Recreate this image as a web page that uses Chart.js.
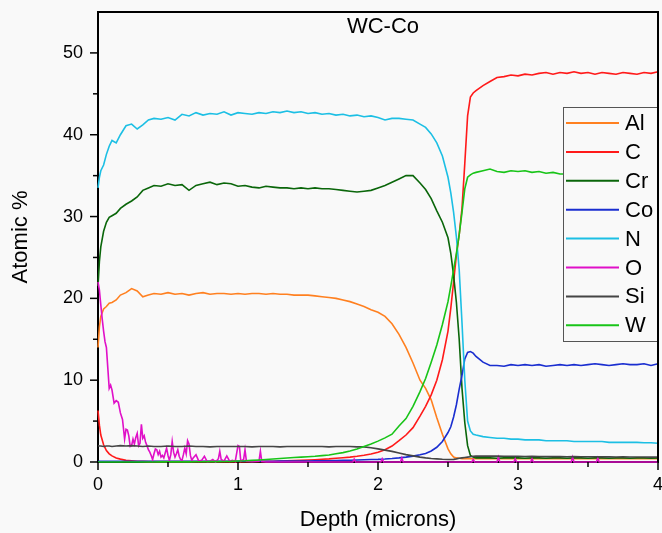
<!DOCTYPE html>
<html><head><meta charset="utf-8">
<script src="https://cdn.jsdelivr.net/npm/chart.js@4/dist/chart.umd.min.js"></script>
<style>html,body{margin:0;padding:0;background:#f9f9f9;} canvas{display:block;}</style>
</head><body>
<canvas id="c" width="662" height="533"></canvas>
<script>
// ---- data ----
const depth = [0,0.01,0.02,0.04,0.06,0.08,0.1,0.13,0.16,0.2,0.24,0.28,0.32,0.36,0.4,
  0.45,0.5,0.55,0.6,0.65,0.7,0.75,0.8,0.85,0.9,0.95,
  1.0,1.05,1.1,1.15,1.2,1.25,1.3,1.35,1.4,1.45,
  1.5,1.55,1.6,1.65,1.7,1.75,1.8,1.85,1.9,1.95,
  2.0,2.05,2.1,2.15,2.2,2.25,2.3,
  2.34,2.38,2.42,2.46,2.5,
  2.52,2.54,2.56,2.58,2.6,2.62,2.64,2.66,2.68,2.7,
  2.75,2.8,2.85,2.9,2.95,
  3.0,3.05,3.1,3.15,3.2,3.25,3.3,3.35,3.4,3.45,
  3.5,3.55,3.6,3.65,3.7,3.75,3.8,3.85,3.9,3.95,4.0];

const alVal = [14.0,16.5,17.8,18.7,19.0,19.4,19.5,19.8,20.4,20.7,21.2,20.9,20.2,20.4,20.6,
  20.5,20.7,20.5,20.6,20.4,20.6,20.7,20.5,20.6,20.6,20.5,
  20.6,20.5,20.6,20.6,20.5,20.6,20.5,20.5,20.4,20.4,
  20.4,20.3,20.2,20.1,20.0,19.8,19.6,19.3,19.0,18.6,
  18.3,17.8,16.9,15.6,14.0,12.1,10.0,
  9.0,7.6,5.4,3.4,1.6,
  1.0,0.6,0.5,0.45,0.4,0.4,0.4,0.4,0.4,0.4,
  0.4,0.4,0.4,0.4,0.4,
  0.4,0.4,0.4,0.4,0.4,0.4,0.4,0.4,0.4,0.4,
  0.4,0.4,0.4,0.4,0.4,0.4,0.4,0.4,0.4,0.4,0.4];

const cVal = [6.3,4.5,3.3,2.1,1.4,1.0,0.75,0.5,0.35,0.2,0.15,0.1,0.08,0.05,0.05,
  0.05,0.05,0.05,0.05,0.05,0.05,0.05,0.05,0.05,0.05,0.05,
  0.05,0.05,0.06,0.07,0.08,0.1,0.12,0.14,0.17,0.2,
  0.24,0.28,0.33,0.38,0.45,0.52,0.6,0.7,0.82,0.98,
  1.2,1.5,1.95,2.6,3.3,4.2,5.6,
  6.8,8.2,10.0,12.5,16.0,
  18.8,22.0,25.3,27.8,31.0,36.5,42.3,44.6,45.1,45.4,
  46.0,46.5,47.0,47.1,47.3,
  47.2,47.4,47.3,47.5,47.6,47.4,47.6,47.5,47.7,47.5,
  47.6,47.4,47.6,47.5,47.4,47.6,47.5,47.4,47.6,47.5,47.7];

const crVal = [21.5,24.5,26.3,28.2,29.3,29.9,30.1,30.4,31.0,31.5,31.9,32.4,33.2,33.5,33.8,
  33.7,34.0,33.8,33.9,33.2,33.8,34.0,34.2,33.9,34.1,34.0,
  33.7,33.8,33.6,33.5,33.7,33.6,33.5,33.5,33.4,33.5,
  33.4,33.5,33.4,33.4,33.3,33.2,33.1,33.0,33.1,33.2,
  33.5,33.8,34.2,34.6,35.0,35.0,34.1,
  33.3,32.2,30.7,29.3,27.4,
  25.5,22.8,19.5,15.0,9.0,4.8,2.0,0.8,0.6,0.5,
  0.5,0.5,0.45,0.5,0.5,
  0.5,0.45,0.5,0.5,0.45,0.5,0.5,0.45,0.5,0.5,
  0.45,0.5,0.5,0.45,0.5,0.5,0.45,0.5,0.5,0.45,0.5];

const coVal = [0.1,0.1,0.1,0.1,0.1,0.1,0.1,0.1,0.1,0.1,0.1,0.1,0.1,0.1,0.1,
  0.1,0.1,0.1,0.1,0.1,0.1,0.1,0.1,0.1,0.1,0.1,
  0.1,0.1,0.1,0.1,0.1,0.1,0.11,0.11,0.12,0.12,
  0.13,0.14,0.15,0.16,0.18,0.2,0.22,0.25,0.27,0.3,
  0.32,0.36,0.42,0.5,0.6,0.72,0.88,
  1.05,1.35,1.8,2.5,3.6,
  4.3,5.5,7.0,8.9,10.6,12.6,13.4,13.5,13.3,12.9,
  12.2,11.8,11.8,11.7,11.9,
  11.8,11.9,11.8,11.9,11.7,11.8,11.9,11.8,11.9,11.8,
  11.9,12.0,11.9,11.8,11.9,12.0,11.9,11.9,12.0,11.8,12.0];

const nVal = [33.5,34.8,35.6,36.3,37.6,38.6,39.3,39.0,40.0,41.1,41.3,40.7,41.2,41.8,42.0,
  41.9,42.1,41.8,42.5,42.3,42.7,42.4,42.6,42.5,42.8,42.4,
  42.7,42.6,42.5,42.7,42.6,42.8,42.7,42.9,42.7,42.8,
  42.6,42.7,42.5,42.6,42.4,42.5,42.3,42.4,42.2,42.3,
  42.1,41.8,42.0,42.0,41.9,41.8,41.3,
  40.9,40.1,39.0,37.4,34.8,
  32.9,30.5,27.5,23.5,17.0,10.0,5.0,3.8,3.4,3.3,
  3.1,3.0,2.9,2.9,2.8,
  2.8,2.7,2.7,2.7,2.6,2.6,2.6,2.6,2.5,2.5,
  2.5,2.5,2.5,2.4,2.4,2.4,2.4,2.4,2.35,2.35,2.3];

const siVal = [2.0,1.95,1.95,1.9,1.95,1.95,1.9,1.95,2.0,1.95,2.0,1.95,1.9,1.95,1.9,
  1.9,1.95,1.9,1.9,1.95,1.9,1.9,1.85,1.9,1.9,1.9,
  1.9,1.9,1.85,1.9,1.9,1.9,1.85,1.9,1.9,1.9,
  1.9,1.9,1.9,1.85,1.9,1.9,1.9,1.85,1.85,1.75,
  1.6,1.45,1.3,1.1,0.9,0.75,0.6,
  0.5,0.42,0.38,0.33,0.3,
  0.3,0.32,0.38,0.45,0.5,0.55,0.6,0.65,0.7,0.72,
  0.73,0.72,0.72,0.7,0.7,
  0.7,0.68,0.7,0.68,0.66,0.68,0.66,0.65,0.66,0.65,
  0.64,0.65,0.63,0.64,0.62,0.63,0.62,0.61,0.62,0.6,0.6];

const wVal = [0,0,0,0,0,0,0,0,0,0,0,0,0,0,0,
  0.02,0.02,0.02,0.02,0.02,0.03,0.03,0.04,0.05,0.06,0.08,
  0.12,0.15,0.2,0.25,0.3,0.36,0.42,0.48,0.55,0.6,
  0.65,0.7,0.78,0.86,1.0,1.15,1.35,1.6,1.9,2.2,
  2.55,2.95,3.4,4.4,5.3,6.8,8.6,
  10.2,12.2,14.3,16.8,19.6,
  21.5,23.5,25.5,27.8,30.5,33.4,34.8,35.1,35.3,35.4,
  35.6,35.8,35.5,35.4,35.6,
  35.5,35.6,35.4,35.5,35.3,35.4,35.2,35.2,35.3,35.2,
  35.3,35.1,35.2,35.2,35.1,35.2,35.1,35.2,35.1,35.2,35.2];

// oxygen is noisy near the surface, so it has its own depth list
const oDepth = [0,0.01,0.02,0.03,0.04,0.05,0.06,0.07,0.08,0.09,0.1,
  0.115,0.13,0.145,0.16,0.175,0.19,
  0.2,0.21,0.22,0.23,0.24,0.25,0.26,0.27,0.28,0.29,0.3,0.31,0.32,0.33,0.34,0.35,0.36,0.37,0.38,0.39,
  0.4,0.41,0.42,0.43,0.44,0.45,0.46,0.47,0.48,0.49,0.5,0.51,0.52,0.53,0.54,0.55,0.56,0.57,0.58,0.59,
  0.6,0.61,0.62,0.63,0.64,0.65,0.66,0.67,0.68,
  0.7,0.72,0.74,0.76,0.78,0.8,0.82,0.84,0.86,0.87,0.88,
  0.9,0.92,0.94,0.96,0.98,1.0,1.01,1.02,1.04,1.05,1.06,
  1.1,1.15,1.16,1.17,1.2,1.5,
  1.82,1.83,1.84,2.02,2.03,2.04,2.16,2.17,2.18,2.67,2.68,2.69,2.85,2.86,2.87,
  2.97,2.98,2.99,3.09,3.1,3.11,3.38,3.39,3.4,3.56,3.57,3.58,4.0];
const oVal = [22.0,21.0,19.2,17.5,16.0,14.7,14.0,11.5,9.0,9.4,8.8,
  7.2,7.5,7.3,6.0,5.2,2.8,
  4.0,3.9,3.2,1.9,2.0,2.8,2.2,3.0,3.5,2.0,2.3,4.6,2.9,3.2,2.4,2.0,1.5,1.2,0.8,0.3,
  1.0,1.6,1.5,0.9,1.3,0.6,0.8,0.5,1.1,1.7,0.8,0.2,0.9,2.5,1.2,0.6,1.0,1.5,0.7,0.3,
  0.2,0.9,1.7,1.0,2.6,2.2,0.8,0.2,0.5,
  0.9,0.1,0.2,0.7,0.05,0.1,0.3,0.0,0.4,1.3,0.3,
  0.1,0.75,0.1,0.2,0.05,2.0,1.9,0.1,0.3,1.5,0.1,
  0.05,0.1,1.3,0.05,0.0,0.0,
  0.0,0.35,0.0,0.0,0.4,0.0,0.0,0.5,0.0,0.0,0.3,0.0,0.0,0.6,0.0,
  0.0,0.4,0.0,0.0,0.4,0.0,0.0,0.6,0.0,0.0,0.5,0.0,0.0];

const seriesNames  = ['Al','C','Cr','Co','N','O','Si','W'];
const seriesColors = ['#ff8020','#ff1a1a','#0a660a','#1a2ed0','#1cbfe4','#e010c8','#454545','#18c418'];
const xTickLabels = [0,1,2,3,4];
const yTickLabels = [0,10,20,30,40,50];
const chartTitle = 'WC-Co';
const xTitle = 'Depth (microns)';
const yTitle = 'Atomic %';

// ---- build ----
const FONT = '"Liberation Sans", Arial, Helvetica, sans-serif';
Chart.defaults.font.family = FONT;
const BG = '#f9f9f9';
function pts(xs, ys){ return xs.map((x,i)=>({x:x, y:ys[i]})); }
const seriesData = [
  pts(depth, alVal), pts(depth, cVal), pts(depth, crVal), pts(depth, coVal),
  pts(depth, nVal), pts(oDepth, oVal), pts(depth, siVal), pts(depth, wVal)
];
const datasets = seriesNames.map((name,i)=>({
  label:name, data:seriesData[i], borderColor:seriesColors[i], backgroundColor:seriesColors[i],
  borderWidth:1.6, pointRadius:0, tension:0, clip:false, order:seriesNames.length-1-i
}));

const decor = {
  id:'decor',
  beforeDraw(chart){
    const {ctx,width,height}=chart;
    ctx.save(); ctx.fillStyle=BG; ctx.fillRect(0,0,width,height); ctx.restore();
  },
  afterDraw(chart){
    const {ctx, chartArea:a, scales:{x,y}} = chart;
    ctx.save();
    // tick marks (major longer, minor shorter)
    ctx.strokeStyle='#000'; ctx.lineWidth=1.5;
    x.ticks.forEach(t=>{
      const px=x.getPixelForValue(t.value);
      const major = xTickLabels.includes(t.value);
      ctx.beginPath(); ctx.moveTo(px,a.bottom); ctx.lineTo(px,a.bottom+(major?8:5)); ctx.stroke();
    });
    y.ticks.forEach(t=>{
      if (t.value>=y.max) return;
      const py=y.getPixelForValue(t.value);
      const major = yTickLabels.includes(t.value);
      ctx.beginPath(); ctx.moveTo(a.left,py); ctx.lineTo(a.left-(major?8:5),py); ctx.stroke();
    });
    // title inside plot
    ctx.fillStyle='#000'; ctx.font='22px '+FONT; ctx.textAlign='center'; ctx.textBaseline='middle';
    ctx.fillText(chartTitle, (a.left+a.right)/2+5, a.top+15);
    // legend box
    const lx=563, ly=107, lw=a.right-563, lh=234;
    ctx.fillStyle=BG; ctx.fillRect(lx,ly,lw,lh);
    ctx.strokeStyle='#555'; ctx.lineWidth=1; ctx.strokeRect(lx+0.5,ly+0.5,lw,lh);
    seriesNames.forEach((name,i)=>{
      const yy = 123 + i*28.9;
      ctx.strokeStyle=seriesColors[i]; ctx.lineWidth=2;
      ctx.beginPath(); ctx.moveTo(566,yy); ctx.lineTo(619,yy); ctx.stroke();
      ctx.fillStyle='#000'; ctx.font='22px '+FONT; ctx.textAlign='left'; ctx.textBaseline='middle';
      ctx.fillText(name, 625, yy+1);
    });
    // frame: top and right
    ctx.strokeStyle='#000'; ctx.lineWidth=2;
    ctx.beginPath(); ctx.moveTo(a.left,a.top); ctx.lineTo(a.right,a.top); ctx.lineTo(a.right,a.bottom); ctx.stroke();
    ctx.restore();
  }
};

new Chart(document.getElementById('c'), {
  type:'line',
  data:{datasets:datasets},
  options:{
    responsive:false, animation:false, devicePixelRatio:1,
    layout:{padding:{left:0,right:4,top:12,bottom:0}},
    plugins:{legend:{display:false}, tooltip:{enabled:false}, title:{display:false}},
    scales:{
      x:{type:'linear', min:0, max:4,
        ticks:{stepSize:0.5, autoSkip:false, maxRotation:0, padding:12, color:'#000', font:{size:18},
          callback:v=> xTickLabels.includes(v) ? String(v) : ''},
        grid:{display:true, drawOnChartArea:false, drawTicks:false},
        border:{display:true, color:'#000', width:2},
        title:{display:true, text:xTitle, color:'#000', font:{size:22}, padding:{top:0,bottom:0}},
        afterFit(s){ s.height=71; s.paddingLeft=0; s.paddingRight=0; }
      },
      y:{type:'linear', min:0, max:55,
        ticks:{stepSize:5, autoSkip:false, padding:15, color:'#000', font:{size:18},
          callback:v=> yTickLabels.includes(v) ? String(v) : ''},
        grid:{display:true, drawOnChartArea:false, drawTicks:false},
        border:{display:true, color:'#000', width:2},
        title:{display:true, text:yTitle, color:'#000', font:{size:22}, padding:{top:8,bottom:0}},
        afterFit(s){ s.width=98; s.paddingTop=0; s.paddingBottom=0; }
      }
    }
  },
  plugins:[decor]
});
</script>
</body></html>
